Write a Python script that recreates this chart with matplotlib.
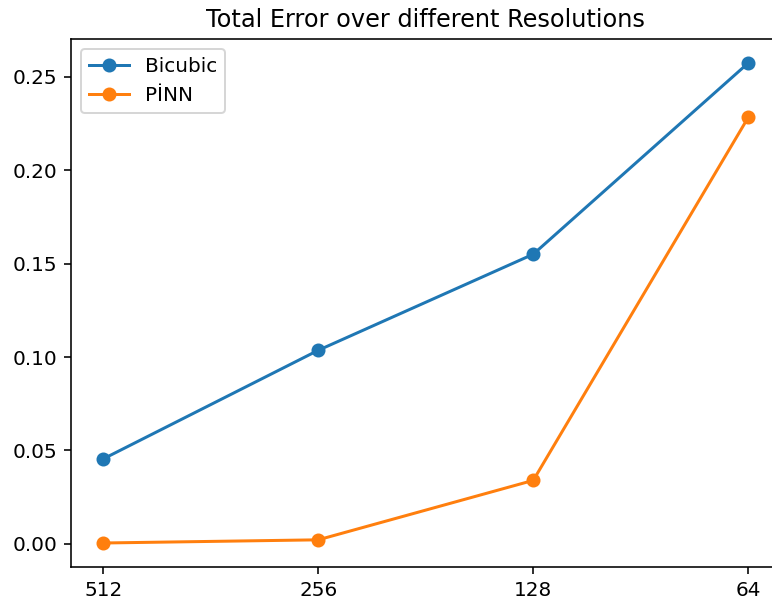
import matplotlib
matplotlib.use('Agg')
import matplotlib.pyplot as plt

resolutions = ['512', '256', '128', '64']
bicubic_error = [0.0455, 0.1036, 0.1550, 0.2573]
pinn_error = [0.0005, 0.0022, 0.0340, 0.2282]

dpi = 144
fig = plt.figure(figsize=(772 / dpi, 606 / dpi), dpi=dpi)
# axes run past the right edge of the canvas
ax = fig.add_axes([71 / 772, 39 / 606, 709.5 / 772, 528 / 606])

ax.plot(resolutions, bicubic_error, marker='o', label='Bicubic')
ax.plot(resolutions, pinn_error, marker='o', label='P\u0130NN')

ax.set_title('Total Error over different Resolutions')
ax.legend(loc='upper left')

fig.savefig('out.png', dpi=dpi)
